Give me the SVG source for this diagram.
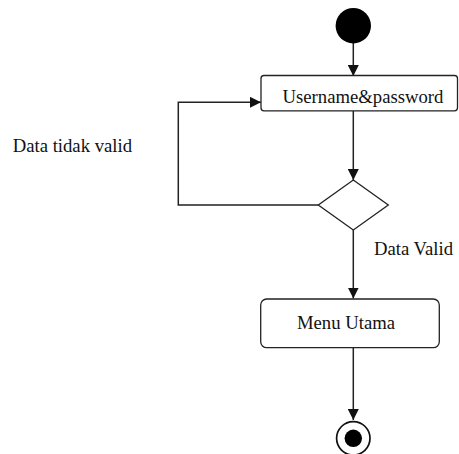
<svg xmlns="http://www.w3.org/2000/svg" width="459" height="454" viewBox="0 0 459 454">
<style>
.node{fill:#fff;stroke:#222;stroke-width:1.3}
.edge{fill:none;stroke:#222;stroke-width:1.5}
text{font-family:"Liberation Serif","Times New Roman",serif;font-size:18.7px;fill:#111}
</style>
<defs>
<marker id="arr" viewBox="0 0 10 10" refX="10" refY="5" markerWidth="11" markerHeight="11" markerUnits="userSpaceOnUse" orient="auto">
<path d="M0,0 L10,5 L0,10 z" fill="#111"/>
</marker>
</defs>
<rect width="459" height="454" fill="#fff"/>
<g id="connectors">
<line class="edge" x1="353.3" y1="43" x2="353.3" y2="76" marker-end="url(#arr)"/>
<line class="edge" x1="353.3" y1="111" x2="353.3" y2="180" marker-end="url(#arr)"/>
<polyline class="edge" points="318.5,205 178.3,205 178.3,102.3 261,102.3" marker-end="url(#arr)"/>
<line class="edge" x1="353.3" y1="230" x2="353.3" y2="298.5" marker-end="url(#arr)"/>
<line class="edge" x1="353.3" y1="348" x2="353.3" y2="420" marker-end="url(#arr)"/>
</g>
<g id="start">
<circle cx="353.3" cy="25.7" r="17.7" fill="#000"/>
</g>
<g id="login">
<rect class="node" x="261" y="75.5" width="196.5" height="35.3" rx="3"/>
<text x="363" y="103" text-anchor="middle">Username&amp;password</text>
</g>
<g id="decision">
<polygon class="node" points="353.3,180 388.3,205 353.3,230 318.3,205"/>
</g>
<g id="menu">
<rect class="node" x="260.7" y="299" width="178.6" height="48.7" rx="6"/>
<text x="346" y="329" text-anchor="middle">Menu Utama</text>
</g>
<g id="end">
<circle cx="353.3" cy="438.3" r="16.7" fill="#fff" stroke="#111" stroke-width="1.7"/>
<circle cx="353.3" cy="438.3" r="8.7" fill="#000"/>
</g>
<g id="labels">
<text x="12.7" y="152.3">Data tidak valid</text>
<text x="374" y="255">Data Valid</text>
</g>
</svg>
